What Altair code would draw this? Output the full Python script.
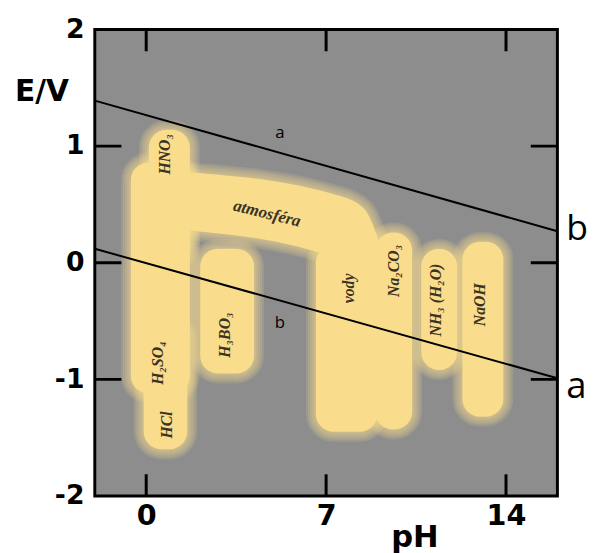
import altair as alt
import pandas as pd

# ---- axis values ----
x_tick_values = [0, 7, 14]
y_label_values = [-2, -1, 0, 1, 2]
y_tick_values = [-1, 0, 1]

# ---- water stability lines (pH, E/V) ----
line_names = ["a", "b"]
line_ph_start = [-2, -2]
line_ph_end = [16, 16]
line_e_start = [1.39, 0.12]
line_e_end = [0.27, -0.99]

# ---- yellow regions (vertical columns) ----
col_names = ["HNO3", "H2SO4", "HCl", "H3BO3", "vody", "Na2CO3", "NH3", "NaOH"]
col_ph1 = [0.1, -0.6, -0.1, 2.1, 6.6, 8.9, 10.7, 12.3]
col_ph2 = [1.7, 1.7, 1.6, 4.2, 9.0, 10.35, 12.1, 13.9]
col_e_top = [1.14, 0.86, -0.5, 0.12, 0.15, 0.26, 0.12, 0.18]
col_e_bot = [0.0, -1.12, -1.6, -0.95, -1.45, -1.43, -0.92, -1.32]

# ---- atmosféra band (slanted, rounded right end) ----
band_ph = [1.5, 7.4, 8.3, 8.75]
band_e_top = [0.72, 0.52, 0.42, 0.2]
band_e_bot = [0.34, 0.1, 0.0, 0.0]

# ---- labels inside regions ----
vlabel_text = ["HNO₃", "H₂SO₄", "HCl", "H₃BO₃", "vody", "Na₂CO₃", "NH₃ (H₂O)", "NaOH"]
vlabel_ph = [0.73, 0.46, 0.8, 3.08, 7.9, 9.65, 11.27, 13.0]
vlabel_e = [0.93, -0.86, -1.39, -0.62, -0.22, -0.07, -0.32, -0.36]
band_label_text = ["atmosféra"]
band_label_ph = [4.7]
band_label_e = [0.42]

# ---- line labels ----
inner_label_text = ["a", "b"]
inner_label_ph = [5.2, 5.2]
inner_label_e = [1.11, -0.52]
outer_b_text = ["b"]
outer_b_ph = [16]
outer_b_e = [0.27]
outer_a_text = ["a"]
outer_a_ph = [16]
outer_a_e = [-0.99]

YELLOW = "#f9dc8c"
GRAY = "#8d8d8d"
TXT = "#3a3322"

lines_df = pd.DataFrame({"name": line_names, "x1": line_ph_start, "x2": line_ph_end,
                         "y1": line_e_start, "y2": line_e_end})
cols_df = pd.DataFrame({"name": col_names, "x1": col_ph1, "x2": col_ph2,
                        "y1": col_e_top, "y2": col_e_bot})
band_df = pd.DataFrame({"ph": band_ph, "top": band_e_top, "bot": band_e_bot})
vlab_df = pd.DataFrame({"t": vlabel_text, "ph": vlabel_ph, "e": vlabel_e})
blab_df = pd.DataFrame({"t": band_label_text, "ph": band_label_ph, "e": band_label_e})
ilab_df = pd.DataFrame({"t": inner_label_text, "ph": inner_label_ph, "e": inner_label_e})
ob_df = pd.DataFrame({"t": outer_b_text, "ph": outer_b_ph, "e": outer_b_e})
oa_df = pd.DataFrame({"t": outer_a_text, "ph": outer_a_ph, "e": outer_a_e})
xt_df = pd.DataFrame({"v": x_tick_values})
yt_df = pd.DataFrame({"v": y_tick_values})

xscale = alt.Scale(domain=[-2, 16], nice=False, zero=False)
yscale = alt.Scale(domain=[-2, 2], nice=False, zero=False)

x_axis = alt.Axis(values=x_tick_values, ticks=False, tickSize=0, domain=False, grid=False,
                  labelFont="DejaVu Sans", labelFontWeight="bold", labelFontSize=29,
                  labelColor="black", labelPadding=6, labelExpr="'' + datum.value",
                  title="pH", titleFont="DejaVu Sans", titleFontWeight="bold", titleFontSize=31,
                  titleColor="black", titleX=324, titleY=51, titleAlign="center",
                  titleBaseline="alphabetic", titleAnchor="start")
y_axis = alt.Axis(values=y_label_values, ticks=False, tickSize=0, domain=False, grid=False,
                  labelFont="DejaVu Sans", labelFontWeight="bold", labelFontSize=27,
                  labelColor="black", labelPadding=11, labelExpr="'' + datum.value",
                  title="E/V", titleFont="DejaVu Sans", titleFontWeight="bold", titleFontSize=30,
                  titleColor="black", titleAngle=0, titleX=-54, titleY=63, titleAlign="center",
                  titleBaseline="middle", titleAnchor="start")

layers = []

# halos (blur imitation)
for sw in [20, 16, 12, 8, 4]:
    layers.append(alt.Chart(cols_df).mark_rect(cornerRadius=18, fillOpacity=0, stroke=YELLOW,
                                               strokeWidth=sw, strokeOpacity=0.15).encode(
        x=alt.X("x1:Q", scale=xscale, axis=x_axis), x2="x2:Q",
        y=alt.Y("y1:Q", scale=yscale, axis=y_axis), y2="y2:Q"))
    layers.append(alt.Chart(band_df).mark_area(fillOpacity=0, stroke=YELLOW, strokeJoin="round",
                                               interpolate="monotone",
                                               strokeWidth=sw + 14, strokeOpacity=0.15).encode(
        x="ph:Q", y="top:Q", y2="bot:Q"))

# solid fills
layers.append(alt.Chart(cols_df).mark_rect(cornerRadius=18, fill=YELLOW, opacity=1).encode(
    x="x1:Q", x2="x2:Q", y="y1:Q", y2="y2:Q"))
layers.append(alt.Chart(band_df).mark_area(fill=YELLOW, stroke=YELLOW, strokeJoin="round",
                                           interpolate="monotone",
                                           strokeWidth=14, opacity=1).encode(
    x="ph:Q", y="top:Q", y2="bot:Q"))

# labels in regions
layers.append(alt.Chart(vlab_df).mark_text(angle=270, font="Liberation Serif", fontStyle="italic",
                                           fontWeight="bold", fontSize=16, color=TXT).encode(
    x="ph:Q", y="e:Q", text="t:N"))
layers.append(alt.Chart(blab_df).mark_text(angle=14, font="Liberation Serif", fontStyle="italic",
                                           fontWeight="bold", fontSize=17, color=TXT).encode(
    x="ph:Q", y="e:Q", text="t:N"))

# water lines
layers.append(alt.Chart(lines_df).mark_rule(color="black", strokeWidth=2, clip=True).encode(
    x="x1:Q", x2="x2:Q", y="y1:Q", y2="y2:Q"))

# inner line labels
layers.append(alt.Chart(ilab_df).mark_text(font="Open Sans", fontSize=17, color="black").encode(
    x="ph:Q", y="e:Q", text="t:N"))
# outer line labels
layers.append(alt.Chart(ob_df).mark_text(font="Open Sans", fontSize=36, color="black",
                                         align="left", baseline="middle", dx=9, dy=-2).encode(
    x="ph:Q", y="e:Q", text="t:N"))
layers.append(alt.Chart(oa_df).mark_text(font="Open Sans", fontSize=37, color="black",
                                         align="left", baseline="middle", dx=9, dy=9).encode(
    x="ph:Q", y="e:Q", text="t:N"))

# inward ticks
for yv in [2, -2]:
    layers.append(alt.Chart(xt_df).mark_tick(orient="vertical", size=44, thickness=3,
                                             color="black", clip=True, opacity=1).encode(
        x="v:Q", y=alt.datum(yv)))
for xv in [-2, 16]:
    layers.append(alt.Chart(yt_df).mark_tick(orient="horizontal", size=54, thickness=3,
                                             color="black", clip=True, opacity=1).encode(
        y="v:Q", x=alt.datum(xv)))

chart = alt.layer(*layers).properties(
    width=469, height=473,
    autosize=alt.AutoSizeParams(type="none"),
    padding={"left": 88, "top": 18, "right": 30, "bottom": 54},
).configure_view(fill=GRAY, stroke="black", strokeWidth=3)

chart.save("out.html", embed_options={"renderer": "svg", "actions": False})
